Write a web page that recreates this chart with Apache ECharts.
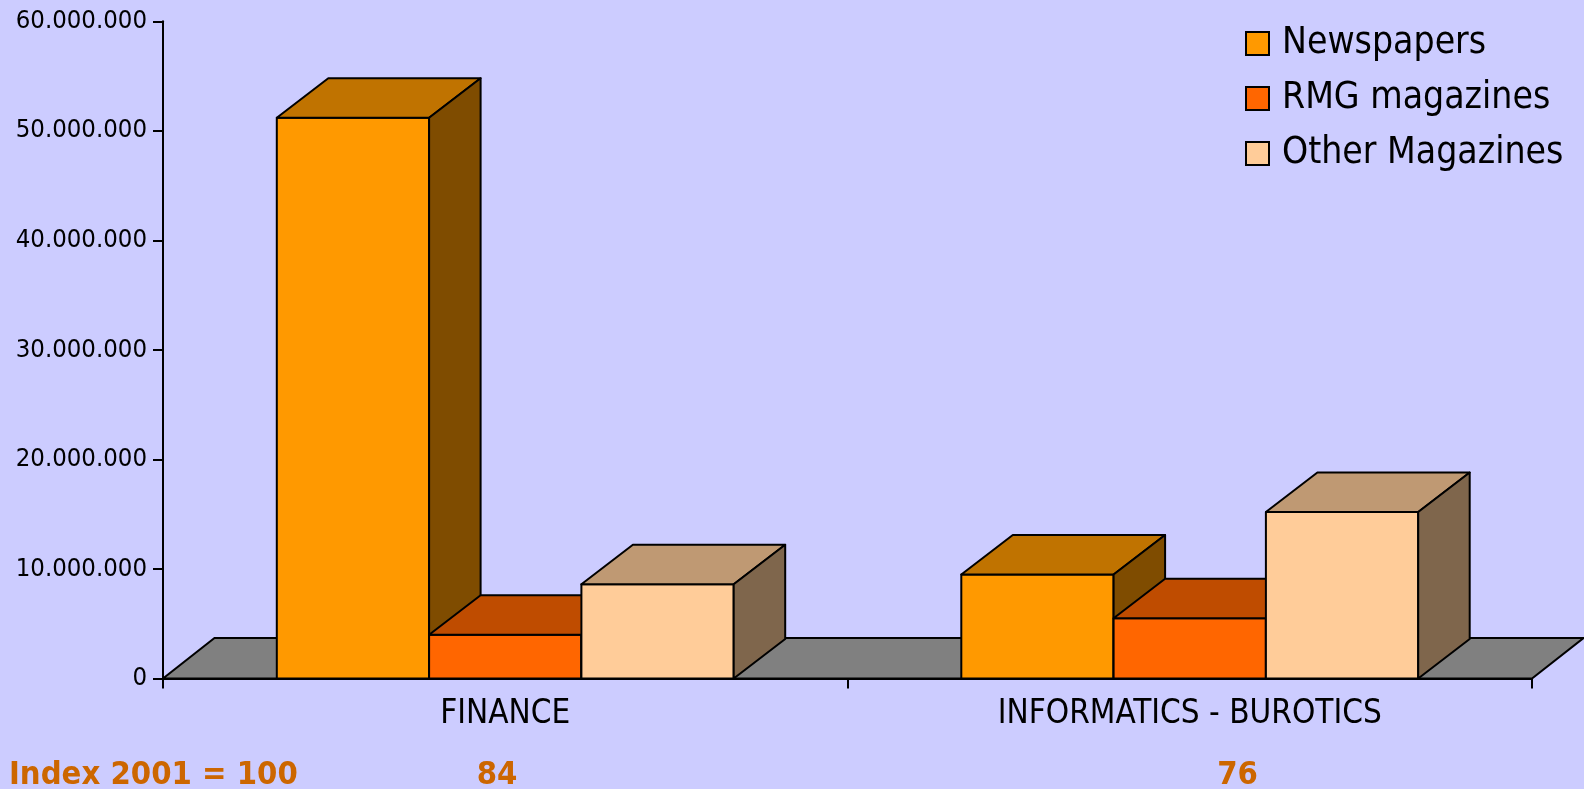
<!DOCTYPE html>
<html>
<head>
<meta charset="utf-8">
<script src="https://cdn.jsdelivr.net/npm/echarts@6/dist/echarts.min.js"></script>
<style>
html,body{margin:0;padding:0;background:#CCCCFF;}
#chart{width:1584px;height:789px;}
</style>
</head>
<body>
<div id="chart"></div>
<script>
// ---- data ----
var categories = ['FINANCE', 'INFORMATICS - BUROTICS'];
var seriesNames = ['Newspapers', 'RMG magazines', 'Other Magazines'];
var newspapers = [51200000, 9500000];
var rmgMagazines = [4000000, 5500000];
var otherMagazines = [8600000, 15200000];
var indexTitle = 'Index 2001 = 100';
var indexValues = ['84', '76'];
var yTicks = { min: 0, max: 60000000, interval: 10000000 };

// ---- styles ----
var FONT = "'DejaVu Sans Condensed', 'Liberation Sans', sans-serif";
var frontColors = ['#FF9900', '#FF6600', '#FFCC99'];
var topColors = ['#C07300', '#BF4C00', '#BF9973'];
var sideColors = ['#7F4C00', '#7F3300', '#7F664C'];
var DX = 51.5, DY = 39.5;
var BAR_FRAC = 0.2225;

function makeRender(s) {
  return function (params, api) {
    var cat = api.value(0), val = api.value(1);
    var base = api.coord([cat, 0]);
    var topPt = api.coord([cat, val]);
    var band = api.size([1, 0])[0];
    var w = band * BAR_FRAC;
    var x0 = base[0] + (s - 1.5) * w;
    var x1 = x0 + w;
    var yb = base[1], yt = topPt[1];
    var st = { stroke: '#000', lineWidth: 2, lineJoin: 'round' };
    function poly(pts, fill) {
      return { type: 'polygon', shape: { points: pts }, style: Object.assign({ fill: fill }, st) };
    }
    return {
      type: 'group',
      children: [
        poly([[x0, yb], [x1, yb], [x1, yt], [x0, yt]], frontColors[s]),
        poly([[x0, yt], [x1, yt], [x1 + DX, yt - DY], [x0 + DX, yt - DY]], topColors[s]),
        poly([[x1, yb], [x1 + DX, yb - DY], [x1 + DX, yt - DY], [x1, yt]], sideColors[s])
      ]
    };
  };
}

function floorRender(params, api) {
  var cs = params.coordSys;
  var yb = cs.y + cs.height;
  return {
    type: 'polygon',
    shape: { points: [[cs.x, yb], [cs.x + cs.width, yb], [cs.x + cs.width + DX, yb - DY - 1], [cs.x + DX, yb - DY - 1]] },
    style: { fill: '#808080', stroke: '#000', lineWidth: 2 }
  };
}

function toPairs(arr) { return arr.map(function (v, i) { return [i, v]; }); }
var seriesData = [newspapers, rmgMagazines, otherMagazines];

var series = [{
  type: 'custom', name: '_floor', renderItem: floorRender, data: [[0, 0]], z: 1, silent: true
}];
seriesData.forEach(function (d, s) {
  series.push({
    type: 'custom', name: seriesNames[s], renderItem: makeRender(s),
    data: toPairs(d), z: 2 + s,
    itemStyle: { color: frontColors[s] },
    encode: { x: 0, y: 1 }
  });
});

var chart = echarts.init(document.getElementById('chart'), null, { renderer: 'canvas' });
chart.setOption({
  backgroundColor: '#CCCCFF',
  animation: false,
  grid: { left: 163, right: 52, top: 21.3, bottom: 110.5, containLabel: false },
  legend: {
    data: seriesNames,
    orient: 'vertical',
    left: 1245, top: 25,
    padding: 0,
    icon: 'rect',
    itemWidth: 23, itemHeight: 23, itemGap: 18,
    itemStyle: { borderColor: '#000', borderWidth: 2 },
    textStyle: { fontFamily: FONT, fontSize: 37, lineHeight: 36, color: '#000', padding: [0, 0, 0, 8] }
  },
  xAxis: {
    type: 'category', data: categories,
    axisLine: { show: true, lineStyle: { color: '#000', width: 2 } },
    axisTick: { show: true, length: 10, lineStyle: { color: '#000', width: 2 } },
    axisLabel: { fontFamily: FONT, fontSize: 33, color: '#000', margin: 19 },
    splitLine: { show: false }, z: 10
  },
  yAxis: {
    type: 'value', min: yTicks.min, max: yTicks.max, interval: yTicks.interval,
    axisLine: { show: true, lineStyle: { color: '#000', width: 2 } },
    axisTick: { show: true, length: 10, lineStyle: { color: '#000', width: 2 } },
    axisLabel: {
      fontFamily: FONT, fontSize: 25.5, color: '#000', margin: 16,
      formatter: function (v) { return String(v).replace(/\B(?=(\d{3})+(?!\d))/g, '.'); }
    },
    splitLine: { show: false }, z: 10
  },
  graphic: [
    { type: 'text', left: 9, top: 759, style: { text: indexTitle, fontFamily: FONT, fontSize: 32.5, fontWeight: 'bold', fill: '#CC6600' } },
    { type: 'text', x: 497, y: 776, style: { text: indexValues[0], fontFamily: FONT, fontSize: 32.5, fontWeight: 'bold', fill: '#CC6600', align: 'center', verticalAlign: 'middle' } },
    { type: 'text', x: 1237.5, y: 776, style: { text: indexValues[1], fontFamily: FONT, fontSize: 32.5, fontWeight: 'bold', fill: '#CC6600', align: 'center', verticalAlign: 'middle' } }
  ],
  series: series
});
</script>
</body>
</html>
